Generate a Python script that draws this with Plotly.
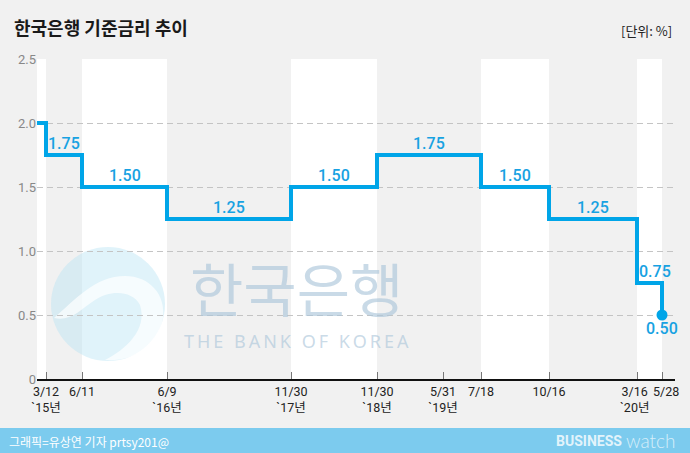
import plotly.graph_objects as go

# ---------------- data ----------------
dates = ["3/12", "6/11", "6/9", "11/30", "11/30", "5/31", "7/18", "10/16", "3/16", "5/28"]
years = ["`15년", "", "`16년", "`17년", "`18년", "`19년", "", "", "`20년", ""]
rates = [1.75, 1.50, 1.25, 1.50, 1.75, 1.75, 1.50, 1.25, 0.75, 0.50]
start_rate = 2.00
y_ticks = [0, 0.5, 1.0, 1.5, 2.0, 2.5]
y_ticktext = ["0", "0.5", "1.0", "1.5", "2.0", "2.5"]

# horizontal placement of each date on the (non-linear, designer-spaced) time axis
slot = [9, 45, 130, 254, 340, 406, 444, 512, 600, 625]
X_MAX = 638

# ---------------- layout constants ----------------
W, H = 690, 453
PL, PT, PW, PH = 37, 59, 638, 320
BG = "#f1f1f1"
BLUE = "#00a5e8"
LABEL = "#17a2e2"
KR = "Noto Sans CJK KR"
NUM = "Roboto, Noto Sans CJK KR"
TICKFONT = dict(family=NUM, size=12.5, color="#222222")


def px(x):
    return (x - PL) / PW


def py(y):
    return (PT + PH - y) / PH


fig = go.Figure()

# step line
fig.add_trace(go.Scatter(
    x=[0] + slot, y=[start_rate] + rates, mode="lines",
    line=dict(shape="hv", color=BLUE, width=4),
    hoverinfo="skip", cliponaxis=False, showlegend=False))
fig.add_trace(go.Scatter(
    x=[slot[-1]], y=[rates[-1]], mode="markers",
    marker=dict(color=BLUE, size=11), cliponaxis=False, showlegend=False))

shapes = []
annotations = []

# alternating bands between rate changes
change_idx = [i for i in range(len(rates))
              if rates[i] != (rates[i - 1] if i else start_rate)]
bounds = [0] + [slot[i] for i in change_idx] + [X_MAX]
for k in range(len(bounds) - 1):
    if k % 2 == 0:
        shapes.append(dict(type="rect", xref="x", yref="paper",
                           x0=bounds[k], x1=bounds[k + 1], y0=0, y1=1,
                           fillcolor="#ffffff", line=dict(width=0), layer="below"))

# value labels
for k, i in enumerate(change_idx):
    r = rates[i]
    if i == len(rates) - 1:
        annotations.append(dict(x=slot[i], y=r, xref="x", yref="y",
                                text=f"{r:.2f}", showarrow=False,
                                xanchor="center", yanchor="top", yshift=-2,
                                font=dict(family=NUM, size=16, color=LABEL, weight=500)))
    else:
        x0, x1 = bounds[k + 1], bounds[k + 2]
        annotations.append(dict(x=(x0 + x1) / 2, y=r, xref="x", yref="y",
                                text=f"{r:.2f}", showarrow=False,
                                xanchor="center", yanchor="bottom", yshift=0,
                                xshift=5 if x1 - x0 < 30 else 0,
                                font=dict(family=NUM, size=16, color=LABEL, weight=500)))

# watermark logo (Bank of Korea)
cx, cy, rr = 108, 304, 57
shapes.append(dict(type="circle", xref="paper", yref="paper",
                   x0=px(cx - rr), x1=px(cx + rr), y0=py(cy + rr), y1=py(cy - rr),
                   fillcolor="rgba(180,226,243,0.42)", line=dict(width=0), layer="below"))


def P(x, y):
    return f"{px(x):.5f},{py(y):.5f}"


swirl = ("M " + P(54, 318) + " C " + P(75, 300) + " " + P(95, 276) + " " + P(125, 276)
         + " C " + P(150, 276) + " " + P(166, 295) + " " + P(163, 318)
         + " C " + P(158, 345) + " " + P(135, 362) + " " + P(105, 360)
         + " C " + P(125, 350) + " " + P(148, 330) + " " + P(140, 305)
         + " C " + P(132, 290) + " " + P(110, 290) + " " + P(95, 300)
         + " C " + P(80, 310) + " " + P(70, 322) + " " + P(54, 318) + " Z")
shapes.append(dict(type="path", xref="paper", yref="paper", path=swirl,
                   fillcolor="rgba(255,255,255,0.7)", line=dict(width=0), layer="below"))

annotations.append(dict(x=px(296), y=py(287), xref="paper", yref="paper",
                        xanchor="center", yanchor="middle",
                        text="한국은행", showarrow=False,
                        font=dict(family=KR, size=58, color="rgba(172,198,218,0.65)")))
annotations.append(dict(x=px(296), y=py(341), xref="paper", yref="paper",
                        xanchor="center", yanchor="middle",
                        text="\u2009".join("THE BANK OF KOREA"), showarrow=False,
                        font=dict(family="Noto Sans", size=18, color="rgba(172,198,218,0.65)")))

# title & unit
annotations.append(dict(x=px(12), y=py(27), xref="paper", yref="paper",
                        xanchor="left", yanchor="middle", showarrow=False,
                        text="<b>한국은행 기준금리 추이</b>",
                        font=dict(family=KR, size=18, color="#1a1a1a")))
annotations.append(dict(x=px(674), y=py(30), xref="paper", yref="paper",
                        xanchor="right", yanchor="middle", showarrow=False,
                        text="[단위: %]",
                        font=dict(family=KR, size=13, color="#222222")))

# footer
shapes.append(dict(type="rect", xref="paper", yref="paper",
                   x0=px(-5), x1=px(W + 5), y0=py(H + 5), y1=py(428),
                   fillcolor="#7ccbee", line=dict(width=0), layer="above"))
annotations.append(dict(x=px(7), y=py(441), xref="paper", yref="paper",
                        xanchor="left", yanchor="middle", showarrow=False,
                        text="그래픽=유상연 기자 prtsy201@",
                        font=dict(family=KR, size=12, color="#ffffff")))
annotations.append(dict(x=px(624), y=py(441), xref="paper", yref="paper",
                        xanchor="right", yanchor="middle", showarrow=False,
                        text="<b>BUSINESS</b>",
                        font=dict(family="Roboto", size=14, color="rgba(255,255,255,0.8)")))
annotations.append(dict(x=px(624), y=py(440), xref="paper", yref="paper",
                        xanchor="left", yanchor="middle", showarrow=False,
                        text="watch",
                        font=dict(family="Lato", size=19, color="rgba(255,255,255,0.7)", weight=300)))

# tick texts; the two crowded last dates are drawn nudged apart
ticktext = []
n_last = len(dates)
for n, (d, y) in enumerate(zip(dates, years)):
    txt = d + (f"<br>{y}" if y else "")
    if n >= n_last - 2:
        annotations.append(dict(x=slot[n], y=0, xref="x", yref="paper",
                                xanchor="center", yanchor="top",
                                xshift=-3 if n == n_last - 2 else 4, yshift=-3,
                                text=txt, showarrow=False, font=TICKFONT))
        ticktext.append("")
    else:
        ticktext.append(txt)

fig.update_layout(
    width=W, height=H,
    margin=dict(l=PL, r=W - PL - PW, t=PT, b=H - PT - PH, autoexpand=False),
    paper_bgcolor=BG, plot_bgcolor=BG,
    shapes=shapes, annotations=annotations,
    showlegend=False,
    xaxis=dict(range=[0, X_MAX], tickmode="array", tickvals=slot,
               ticktext=ticktext,
               tickangle=0, automargin=False,
               ticks="inside", ticklen=7, tickcolor="#777777", tickwidth=1,
               showline=True, linecolor="#111111", linewidth=1.5,
               showgrid=False, zeroline=False, fixedrange=True,
               tickfont=TICKFONT),
    yaxis=dict(range=[0, 2.5], tickmode="array", tickvals=y_ticks, ticktext=y_ticktext,
               automargin=False,
               showgrid=True, gridcolor="#c4c4c4", gridwidth=1, griddash="6px,4px",
               zeroline=False, showline=False, ticks="", fixedrange=True,
               tickfont=dict(family=NUM, size=13, color="#888888")),
)

fig.write_html(
    "out.html",
    config={"displayModeBar": False},
    post_script="document.body.style.margin='0';document.body.style.padding='0';"
                "document.body.style.overflow='hidden';",
)
